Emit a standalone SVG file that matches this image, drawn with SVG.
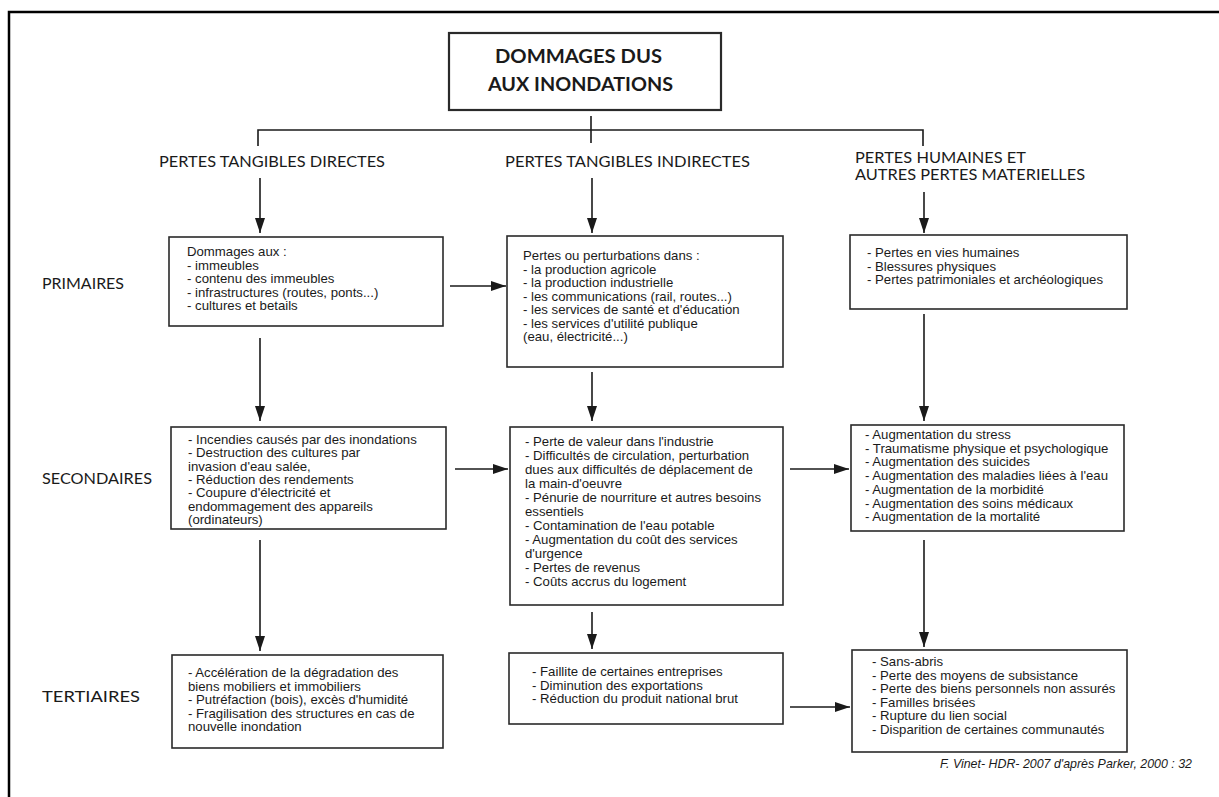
<svg xmlns="http://www.w3.org/2000/svg" width="1219" height="797" viewBox="0 0 1219 797">
<defs>
<marker id="ah" markerUnits="userSpaceOnUse" markerWidth="15" markerHeight="10" viewBox="0 0 15 10" refX="15" refY="5" orient="auto">
<path d="M0,0 L15,5 L0,10 z" fill="#1a1a1a"/>
</marker>
<style>
.box{fill:#fff;stroke:#2a2a2a;stroke-width:1.6}
.tbox{fill:#fff;stroke:#2a2a2a;stroke-width:2.2}
.t{font-family:"Liberation Sans",Arial,sans-serif;font-size:13.2px;fill:#1a1a1a}
.h{font-family:Lato,"Liberation Sans",sans-serif;font-size:15px;fill:#1a1a1a}
.ttl{font-family:Lato,"Liberation Sans",sans-serif;font-weight:bold;font-size:18px;fill:#1a1a1a}
.c{fill:none;stroke:#1a1a1a;stroke-width:1.6}
.a{fill:none;stroke:#1a1a1a;stroke-width:1.6;marker-end:url(#ah)}
.foot{font-family:"Liberation Sans",Arial,sans-serif;font-style:italic;font-size:12.4px;fill:#1a1a1a}
</style>
</defs>
<rect x="0" y="0" width="1219" height="797" fill="#fff"/>
<path d="M9,797 V12 H1219" fill="none" stroke="#000" stroke-width="2.5"/>

<g id="title">
<rect class="tbox" x="449" y="33" width="272" height="77"/>
<text class="ttl" x="495" y="63" textLength="167" lengthAdjust="spacingAndGlyphs">DOMMAGES DUS</text>
<text class="ttl" x="488" y="91" textLength="185" lengthAdjust="spacingAndGlyphs">AUX INONDATIONS</text>
</g>

<g id="headers">
<text class="h" x="159" y="167" textLength="226" lengthAdjust="spacingAndGlyphs">PERTES TANGIBLES DIRECTES</text>
<text class="h" x="505" y="167" textLength="245" lengthAdjust="spacingAndGlyphs">PERTES TANGIBLES INDIRECTES</text>
<text class="h" x="855" y="163" textLength="171" lengthAdjust="spacingAndGlyphs">PERTES HUMAINES ET</text>
<text class="h" x="855" y="180" textLength="230" lengthAdjust="spacingAndGlyphs">AUTRES PERTES MATERIELLES</text>
</g>

<g id="rowlabels">
<text class="h" x="42" y="289" textLength="82" lengthAdjust="spacingAndGlyphs">PRIMAIRES</text>
<text class="h" x="42" y="484" textLength="110" lengthAdjust="spacingAndGlyphs">SECONDAIRES</text>
<text class="h" x="42" y="702" textLength="98" lengthAdjust="spacingAndGlyphs">TERTIAIRES</text>
</g>

<g id="connectors">
<path class="c" d="M591,116 V143"/>
<path class="c" d="M258,146 V130 H923 V146"/>
<path class="a" d="M260,178 V233"/>
<path class="a" d="M592,178 V233"/>
<path class="a" d="M924,192 V233"/>
<path class="a" d="M450,286 H506"/>
<path class="a" d="M260,338 V421"/>
<path class="a" d="M592,372 V421"/>
<path class="a" d="M924,314 V421"/>
<path class="a" d="M455,469 H508"/>
<path class="a" d="M790,469 H849"/>
<path class="a" d="M260,540 V651"/>
<path class="a" d="M592,612 V649"/>
<path class="a" d="M924,540 V647"/>
<path class="a" d="M790,707 H850"/>
</g>

<g id="a1">
<rect class="box" x="169" y="237" width="274" height="89"/>
<text class="t"><tspan x="187" y="256">Dommages aux :</tspan><tspan x="187" y="269.5">- immeubles</tspan><tspan x="187" y="283">- contenu des immeubles</tspan><tspan x="187" y="296.5">- infrastructures (routes, ponts...)</tspan><tspan x="187" y="310">- cultures et betails</tspan></text>
</g>

<g id="b1">
<rect class="box" x="507" y="236" width="276" height="131"/>
<text class="t"><tspan x="523" y="260">Pertes ou perturbations dans :</tspan><tspan x="523" y="273.5">- la production agricole</tspan><tspan x="523" y="287">- la production industrielle</tspan><tspan x="523" y="300.5">- les communications (rail, routes...)</tspan><tspan x="523" y="314">- les services de santé et d'éducation</tspan><tspan x="523" y="327.5">- les services d'utilité publique</tspan><tspan x="523" y="341">(eau, électricité...)</tspan></text>
</g>

<g id="c1">
<rect class="box" x="850" y="235" width="277" height="74"/>
<text class="t"><tspan x="867" y="257">- Pertes en vies humaines</tspan><tspan x="867" y="270.5">- Blessures physiques</tspan><tspan x="867" y="284">- Pertes patrimoniales et archéologiques</tspan></text>
</g>

<g id="a2">
<rect class="box" x="171" y="427" width="275" height="102"/>
<text class="t"><tspan x="188" y="444">- Incendies causés par des inondations</tspan><tspan x="188" y="457.3">- Destruction des cultures par</tspan><tspan x="188" y="470.6">invasion d'eau salée,</tspan><tspan x="188" y="483.9">- Réduction des rendements</tspan><tspan x="188" y="497.2">- Coupure d'électricité et</tspan><tspan x="188" y="510.5">endommagement des appareils</tspan><tspan x="188" y="523.8">(ordinateurs)</tspan></text>
</g>

<g id="b2">
<rect class="box" x="510" y="427" width="273" height="178"/>
<text class="t"><tspan x="525" y="446">- Perte de valeur dans l'industrie</tspan><tspan x="525" y="460">- Difficultés de circulation, perturbation</tspan><tspan x="525" y="474">dues aux difficultés de déplacement de</tspan><tspan x="525" y="488">la main-d'oeuvre</tspan><tspan x="525" y="502">- Pénurie de nourriture et autres besoins</tspan><tspan x="525" y="516">essentiels</tspan><tspan x="525" y="530">- Contamination de l'eau potable</tspan><tspan x="525" y="544">- Augmentation du coût des services</tspan><tspan x="525" y="558">d'urgence</tspan><tspan x="525" y="572">- Pertes de revenus</tspan><tspan x="525" y="586">- Coûts accrus du logement</tspan></text>
</g>

<g id="c2">
<rect class="box" x="851" y="425" width="273" height="106"/>
<text class="t"><tspan x="865" y="439">- Augmentation du stress</tspan><tspan x="865" y="452.7">- Traumatisme physique et psychologique</tspan><tspan x="865" y="466.4">- Augmentation des suicides</tspan><tspan x="865" y="480.1">- Augmentation des maladies liées à l'eau</tspan><tspan x="865" y="493.8">- Augmentation de la morbidité</tspan><tspan x="865" y="507.5">- Augmentation des soins médicaux</tspan><tspan x="865" y="521.2">- Augmentation de la mortalité</tspan></text>
</g>

<g id="a3">
<rect class="box" x="172" y="655" width="271" height="93"/>
<text class="t"><tspan x="188" y="677">- Accélération de la dégradation des</tspan><tspan x="188" y="690.5">biens mobiliers et immobiliers</tspan><tspan x="188" y="704">- Putréfaction (bois), excès d'humidité</tspan><tspan x="188" y="717.5">- Fragilisation des structures en cas de</tspan><tspan x="188" y="731">nouvelle inondation</tspan></text>
</g>

<g id="b3">
<rect class="box" x="509" y="653" width="274" height="71"/>
<text class="t"><tspan x="532" y="676">- Faillite de certaines entreprises</tspan><tspan x="532" y="689.5">- Diminution des exportations</tspan><tspan x="532" y="703">- Réduction du produit national brut</tspan></text>
</g>

<g id="c3">
<rect class="box" x="852" y="650" width="275" height="102"/>
<text class="t"><tspan x="872" y="666">- Sans-abris</tspan><tspan x="872" y="679.5">- Perte des moyens de subsistance</tspan><tspan x="872" y="693">- Perte des biens personnels non assurés</tspan><tspan x="872" y="706.5">- Familles brisées</tspan><tspan x="872" y="720">- Rupture du lien social</tspan><tspan x="872" y="733.5">- Disparition de certaines communautés</tspan></text>
</g>

<g id="footer">
<text class="foot" x="1192" y="768" text-anchor="end">F. Vinet- HDR- 2007 d'après Parker, 2000 : 32</text>
</g>
</svg>
